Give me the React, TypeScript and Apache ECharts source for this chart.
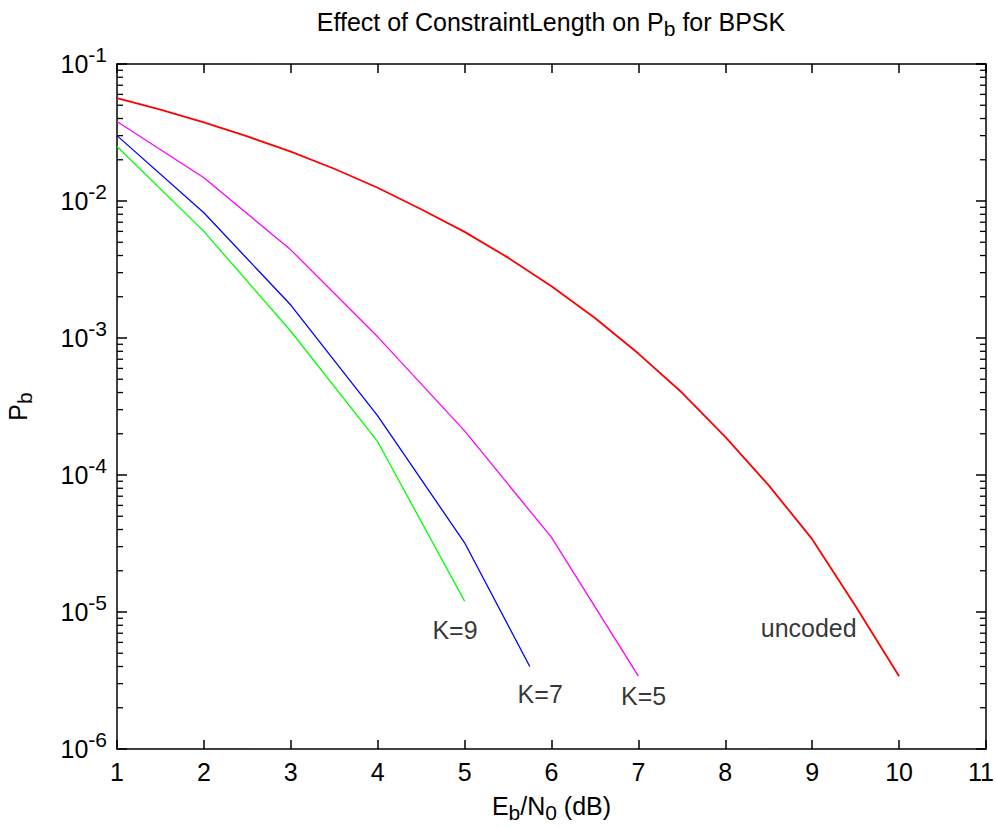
import React, { useEffect, useRef } from "react";
import * as echarts from "echarts";

const FONT = "'Liberation Sans', Arial, Helvetica, sans-serif";

const uncodedX = [1, 1.5, 2, 2.5, 3, 3.5, 4, 4.5, 5, 5.5, 6, 6.5, 7, 7.5, 8, 8.5, 9, 9.5, 10];
const uncodedY = [0.0563, 0.0464, 0.0375, 0.0296, 0.0229, 0.0172, 0.0125, 0.0087, 0.00595, 0.00386, 0.00239, 0.0014, 0.00077, 0.0004, 0.00019, 8.4e-5, 3.4e-5, 1.1e-5, 3.4e-6];

const k5X = [1, 2, 3, 4, 5, 6, 7];
const k5Y = [0.038, 0.0148, 4.4e-3, 1.02e-3, 2.1e-4, 3.5e-5, 3.4e-6];

const k7X = [1, 2, 3, 4, 5, 5.75];
const k7Y = [0.03, 8.2e-3, 1.74e-3, 2.7e-4, 3.2e-5, 4.0e-6];

const k9X = [1, 2, 3, 4, 5];
const k9Y = [0.025, 6.0e-3, 1.12e-3, 1.75e-4, 1.2e-5];

const annotations = [
  { name: "K=9", x: 4.89, y: 7.4e-6 },
  { name: "K=7", x: 5.87, y: 2.5e-6 },
  { name: "K=5", x: 7.06, y: 2.45e-6 },
  { name: "uncoded", x: 8.96, y: 7.7e-6 },
];

const xMin = 1;
const xMax = 11;
const yMinExp = -6;
const yMaxExp = -1;

const zip = (xs: number[], ys: number[]) => xs.map((x, i) => [x, ys[i]]);

export default function App() {
  const ref = useRef<HTMLDivElement>(null);

  useEffect(() => {
    if (!ref.current) return;
    const chart = echarts.init(ref.current, null, { renderer: "svg" });

    const minorTicks: number[][] = [];
    for (let e = yMinExp; e < yMaxExp; e++) {
      for (let m = 2; m <= 9; m++) minorTicks.push([xMin, m * Math.pow(10, e)]);
    }

    const supRich = {
      b: { fontSize: 25, lineHeight: 40, verticalAlign: "middle", fontFamily: FONT, color: "#000" },
      s: { fontSize: 21, lineHeight: 21, verticalAlign: "top", fontFamily: FONT, color: "#000" },
    };
    const subRich = {
      sub: { fontSize: 21, lineHeight: 18, verticalAlign: "bottom", fontFamily: FONT, color: "#000" },
    };

    const lineSeries = (name: string, data: number[][], color: string, width: number) => ({
      name,
      type: "line",
      data,
      showSymbol: false,
      symbol: "none",
      lineStyle: { color, width },
      itemStyle: { color },
      z: 3,
    });

    const option: any = {
      animation: false,
      backgroundColor: "#fff",
      title: {
        text: "Effect of ConstraintLength on P{sub|b} for BPSK",
        left: 551,
        textAlign: "center",
        top: 5,
        padding: 0,
        textStyle: {
          fontSize: 25,
          fontWeight: "normal",
          fontFamily: FONT,
          color: "#000",
          lineHeight: 34,
          rich: subRich,
        },
      },
      grid: { left: 117, right: 10, top: 64, bottom: 79, show: false, containLabel: false, outerBoundsMode: "none" },
      xAxis: [
        {
          type: "value",
          min: xMin,
          max: xMax,
          interval: 1,
          name: "E{sub|b}/N{sub|0} (dB)",
          nameLocation: "middle",
          nameGap: 30,
          nameTextStyle: { fontSize: 25, fontFamily: FONT, color: "#000", lineHeight: 34, rich: subRich },
          axisLine: { show: true, onZero: false, lineStyle: { color: "#000", width: 1.5 } },
          axisTick: { show: true, inside: true, length: 9, lineStyle: { color: "#000", width: 1.5 } },
          axisLabel: {
            fontSize: 25,
            fontFamily: FONT,
            color: "#000",
            margin: 10,
            formatter: (v: number) => (v === xMax ? `{m|${v}}` : `${v}`),
            rich: { m: { fontSize: 25, fontFamily: FONT, color: "#000", padding: [0, 10, 0, 0] } },
          },
          splitLine: { show: false },
        },
        {
          type: "value",
          position: "top",
          min: xMin,
          max: xMax,
          interval: 1,
          axisLine: { show: true, onZero: false, lineStyle: { color: "#000", width: 1.5 } },
          axisTick: { show: true, inside: true, length: 9, lineStyle: { color: "#000", width: 1.5 } },
          axisLabel: { show: false },
          splitLine: { show: false },
        },
      ],
      yAxis: [
        {
          type: "log",
          logBase: 10,
          min: Math.pow(10, yMinExp),
          max: Math.pow(10, yMaxExp),
          name: "P{sub|b}",
          nameLocation: "middle",
          nameGap: 82,
          nameRotate: 90,
          nameTextStyle: { fontSize: 25, fontFamily: FONT, color: "#000", lineHeight: 34, rich: subRich },
          axisLine: { show: true, onZero: false, lineStyle: { color: "#000", width: 1.5 } },
          axisTick: { show: true, inside: true, length: 10, lineStyle: { color: "#000", width: 1.5 } },
          axisLabel: {
            margin: 10,
            formatter: (v: number) => `{b|10}{s|${Math.round(Math.log10(v))}}`,
            rich: supRich,
          },
          splitLine: { show: false },
        },
        {
          type: "log",
          logBase: 10,
          position: "right",
          min: Math.pow(10, yMinExp),
          max: Math.pow(10, yMaxExp),
          axisLine: { show: true, onZero: false, lineStyle: { color: "#000", width: 1.5 } },
          axisTick: { show: true, inside: true, length: 10, lineStyle: { color: "#000", width: 1.5 } },
          axisLabel: { show: false },
          splitLine: { show: false },
        },
      ],
      series: [
        lineSeries("uncoded", zip(uncodedX, uncodedY), "#ff0000", 1.8),
        lineSeries("K=5", zip(k5X, k5Y), "#ff00ff", 1.3),
        lineSeries("K=7", zip(k7X, k7Y), "#0000ff", 1.3),
        lineSeries("K=9", zip(k9X, k9Y), "#00ff00", 1.3),
        {
          type: "custom",
          silent: true,
          clip: false,
          data: minorTicks,
          renderItem: (params: any, api: any) => {
            const v = api.value(1);
            const l = api.coord([xMin, v]);
            const r = api.coord([xMax, v]);
            return {
              type: "group",
              children: [
                { type: "line", shape: { x1: l[0], y1: l[1], x2: l[0] + 6, y2: l[1] }, style: { stroke: "#000", lineWidth: 1.3 } },
                { type: "line", shape: { x1: r[0] - 6, y1: r[1], x2: r[0], y2: r[1] }, style: { stroke: "#000", lineWidth: 1.3 } },
              ],
            };
          },
          z: 4,
        },
        {
          type: "scatter",
          silent: true,
          symbolSize: 1,
          itemStyle: { color: "rgba(0,0,0,0)" },
          data: annotations.map((a) => ({ name: a.name, value: [a.x, a.y] })),
          label: {
            show: true,
            position: "inside",
            formatter: "{b}",
            fontSize: 25,
            fontFamily: FONT,
            color: "#000",
          },
          z: 5,
        },
      ],
    };

    chart.setOption(option);
    return () => chart.dispose();
  }, []);

  return (
    <div
      ref={ref}
      style={{ position: "fixed", left: 0, top: 0, width: 996, height: 828, background: "#fff" }}
    />
  );
}
